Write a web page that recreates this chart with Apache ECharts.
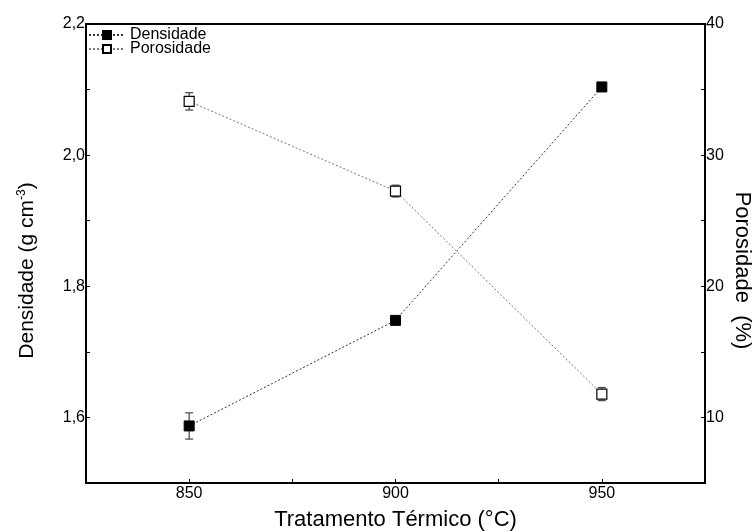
<!DOCTYPE html>
<html><head><meta charset="utf-8">
<script src="https://cdn.jsdelivr.net/npm/echarts@6/dist/echarts.min.js"></script>
<style>html,body{margin:0;padding:0;background:#fff}#c{width:754px;height:532px}</style>
</head><body><div id="c"></div>
<script>
const temps = [850, 900, 950];
const densidade = [1.587, 1.748, 2.104];
const densidadeErr = [0.020, 0.005, 0.004];
const porosidade = [34.10, 27.26, 11.78];
const porosidadeErr = [0.66, 0.45, 0.50];
const xTickLabels = [850, 900, 950];
const leftTickLabels = [1.6, 1.8, 2.0, 2.2];
const rightTickLabels = [10, 20, 30, 40];

const FONT = '"Liberation Sans", Arial, sans-serif';
const chart = echarts.init(document.getElementById('c'));

function errSeries(name, vals, errs, yIdx) {
  return {
    type: 'custom', name: name + '_err', yAxisIndex: yIdx, z: 1, silent: true,
    data: temps.map((t, i) => [t, vals[i], errs[i]]),
    renderItem: function (params, api) {
      const x = api.value(0), y = api.value(1), e = api.value(2);
      const top = api.coord([x, y + e]);
      const bot = api.coord([x, y - e]);
      const w = 4;
      const st = { stroke: '#444', lineWidth: 1.2 };
      return { type: 'group', children: [
        { type: 'line', shape: { x1: top[0], y1: top[1], x2: bot[0], y2: bot[1] }, style: st },
        { type: 'line', shape: { x1: top[0] - w, y1: top[1], x2: top[0] + w, y2: top[1] }, style: st },
        { type: 'line', shape: { x1: bot[0] - w, y1: bot[1], x2: bot[0] + w, y2: bot[1] }, style: st }
      ]};
    }
  };
}

const axisLine = { show: true, lineStyle: { color: '#000', width: 2 } };
const tickStyle = { show: true, inside: true, length: 4, lineStyle: { color: '#000', width: 1 } };

chart.setOption({
  animation: false,
  backgroundColor: '#fff',
  textStyle: { fontFamily: FONT },
  grid: { left: 86, right: 49, top: 24, bottom: 49, show: true, borderColor: '#000', borderWidth: 2,
          outerBoundsMode: 'none', containLabel: false },
  legend: {
    orient: 'vertical', left: 88, top: 27, padding: 0,
    itemWidth: 36, itemHeight: 10, itemGap: -2,
    textStyle: { fontFamily: FONT, fontSize: 16, color: '#000' },
    data: ['Densidade', 'Porosidade']
  },
  xAxis: {
    type: 'value', min: 825, max: 975, interval: 25,
    name: 'Tratamento Térmico (°C)', nameLocation: 'middle', nameGap: 26,
    nameTextStyle: { fontFamily: FONT, fontSize: 22, color: '#000' },
    axisLine: axisLine, axisTick: tickStyle, splitLine: { show: false },
    axisLabel: { margin: 3, fontFamily: FONT, fontSize: 16, color: '#000',
      formatter: v => (xTickLabels.indexOf(v) >= 0 ? String(v) : '') }
  },
  yAxis: [{
    type: 'value', position: 'left', min: 1.5, max: 2.2, interval: 0.1,
    name: '{a|Densidade (g cm}{s|-3}{a|)}', nameLocation: 'middle', nameGap: 48, nameRotate: 90,
    nameTextStyle: { fontFamily: FONT, fontSize: 21, color: '#000', padding: [0, 34, 0, 0],
      rich: { a: { fontFamily: FONT, fontSize: 21, color: '#000' },
              s: { fontFamily: FONT, fontSize: 12, color: '#000', verticalAlign: 'top', padding: [0, 0, 10, 0] } } },
    axisLine: axisLine, axisTick: tickStyle, splitLine: { show: false },
    axisLabel: { margin: 1, fontFamily: FONT, fontSize: 16, color: '#000',
      formatter: v => { const r = Math.round(v * 10) / 10; return leftTickLabels.some(t => Math.abs(t - r) < 1e-6) ? r.toFixed(1).replace('.', ',') : ''; } }
  }, {
    type: 'value', position: 'right', min: 5, max: 40, interval: 5,
    name: 'Porosidade  (%)', nameLocation: 'middle', nameGap: 26, nameRotate: -90, nameMoveOverlap: false,
    nameTextStyle: { fontFamily: FONT, fontSize: 22, color: '#000', padding: [0, 0, 0, 34] },
    axisLine: axisLine, axisTick: tickStyle, splitLine: { show: false },
    axisLabel: { margin: 1, fontFamily: FONT, fontSize: 16, color: '#000',
      formatter: v => (rightTickLabels.indexOf(v) >= 0 ? String(v) : '') }
  }],
  series: [
    errSeries('Densidade', densidade, densidadeErr, 0),
    errSeries('Porosidade', porosidade, porosidadeErr, 1),
    {
      name: 'Densidade', type: 'line', yAxisIndex: 0, z: 3,
      data: temps.map((t, i) => [t, densidade[i]]),
      symbol: 'rect', symbolSize: 10,
      itemStyle: { color: '#000', borderColor: '#000', borderWidth: 1 },
      lineStyle: { color: '#333', width: 1, type: [2, 2] }
    },
    {
      name: 'Porosidade', type: 'line', yAxisIndex: 1, z: 3,
      data: temps.map((t, i) => [t, porosidade[i]]),
      symbol: 'rect', symbolSize: 10,
      itemStyle: { color: '#fff', borderColor: '#000', borderWidth: 1.2 },
      lineStyle: { color: '#777', width: 1, type: [2, 2] }
    }
  ]
});
</script>
</body></html>
